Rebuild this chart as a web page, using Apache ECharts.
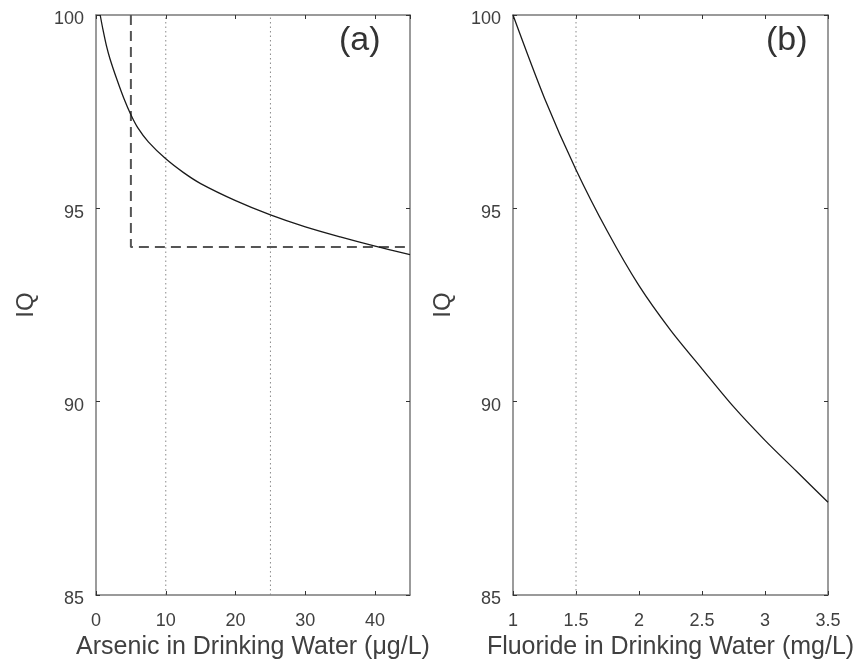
<!DOCTYPE html>
<html>
<head>
<meta charset="utf-8">
<script src="https://cdn.jsdelivr.net/npm/echarts@6/dist/echarts.min.js"></script>
<style>
  html, body { margin: 0; padding: 0; background: #fff; }
  #chart { width: 860px; height: 669px; }
</style>
</head>
<body>
<div id="chart"></div>
<script>
// panel (a): arsenic
var arsenicX = [0.6, 1, 1.5, 2, 3, 4, 5, 6, 7.5, 10, 12.5, 15, 20, 25, 30, 35, 40, 45];
var arsenicIQ = [100, 99.62, 99.2, 98.87, 98.33, 97.84, 97.42, 97.08, 96.72, 96.28, 95.93, 95.64, 95.2, 94.83, 94.52, 94.26, 94.02, 93.8];
var arsenicGuides = [10, 25];
var arsenicLimit = [5, 94]; // x, IQ of the dashed corner

// panel (b): fluoride
var fluorideX = [1, 1.25, 1.5, 1.75, 2, 2.25, 2.5, 2.75, 3, 3.25, 3.5];
var fluorideIQ = [100, 97.85, 96.0, 94.4, 93.0, 91.85, 90.85, 89.87, 89.0, 88.2, 87.4];
var fluorideGuides = [1.5];

var iqTicks = [85, 90, 95, 100];

var textColor = '#404040';
var boxColor = '#7a7a7a';
var font = 'Liberation Sans, Arial, Helvetica, sans-serif';

function pairs(xs, ys) {
  return xs.map(function (x, i) { return [x, ys[i]]; });
}

function guideSeries(xs, axisIdx) {
  return xs.map(function (x) {
    return {
      type: 'line',
      xAxisIndex: axisIdx,
      yAxisIndex: axisIdx,
      data: [[x, iqTicks[0]], [x, iqTicks[iqTicks.length - 1]]],
      symbol: 'none',
      silent: true,
      lineStyle: { color: '#8a8a8a', width: 1, type: [1.5, 3] }
    };
  });
}

function xAxisPair(grid, min, max, interval, name) {
  var base = {
    gridIndex: grid,
    type: 'value',
    min: min,
    max: max,
    interval: interval,
    splitLine: { show: false },
    axisLine: { show: true, onZero: false, lineStyle: { color: boxColor, width: 1.5 } },
    axisTick: { show: true, inside: true, length: 4, lineStyle: { color: '#333', width: 1 } }
  };
  var bottom = Object.assign({}, base, {
    position: 'bottom',
    name: name,
    nameLocation: 'middle',
    nameGap: 33,
    nameTextStyle: { color: textColor, fontSize: 25, fontFamily: font },
    axisLabel: {
      color: textColor, fontSize: 18, fontFamily: font, margin: 17,
      showMinLabel: true, showMaxLabel: true
    }
  });
  var top = Object.assign({}, base, {
    position: 'top',
    axisLabel: { show: false }
  });
  return [bottom, top];
}

function yAxisPair(grid) {
  var base = {
    gridIndex: grid,
    type: 'value',
    min: iqTicks[0],
    max: iqTicks[iqTicks.length - 1],
    interval: 5,
    splitLine: { show: false },
    axisLine: { show: true, onZero: false, lineStyle: { color: boxColor, width: 1.5 } },
    axisTick: { show: true, inside: true, length: 4, lineStyle: { color: '#333', width: 1 } }
  };
  var left = Object.assign({}, base, {
    position: 'left',
    name: 'IQ',
    nameLocation: 'middle',
    nameGap: 58,
    nameTextStyle: { color: textColor, fontSize: 24, fontFamily: font },
    // matlab-ish labels sit a bit below their ticks
    axisLabel: {
      color: textColor, fontSize: 18, fontFamily: font, margin: 12,
      verticalAlign: 'top', lineHeight: 9
    }
  });
  var right = Object.assign({}, base, {
    position: 'right',
    axisLabel: { show: false }
  });
  return [left, right];
}

var xa = xAxisPair(0, 0, 45, 10, 'Arsenic in Drinking Water (\u03bcg/L)');
var xb = xAxisPair(1, 1, 3.5, 0.5, 'Fluoride in Drinking Water (mg/L)');
var ya = yAxisPair(0);
var yb = yAxisPair(1);
// arsenic axis runs to 45 but ticks only up to 40
xa[0].axisLabel.showMaxLabel = false;

var chart = echarts.init(document.getElementById('chart'));
chart.setOption({
  animation: false,
  backgroundColor: '#fff',
  grid: [
    { left: 96, right: 450, top: 15, bottom: 74 },
    { left: 513, right: 32, top: 15, bottom: 74 }
  ],
  // axis order: 0 bottom a, 1 bottom b, 2 top a, 3 top b
  xAxis: [xa[0], xb[0], xa[1], xb[1]],
  yAxis: [ya[0], yb[0], ya[1], yb[1]],
  graphic: [
    { type: 'text', left: 339, top: 24, style: { text: '(a)', fill: '#333', font: '34px ' + font } },
    { type: 'text', left: 766, top: 24, style: { text: '(b)', fill: '#333', font: '34px ' + font } }
  ],
  series: [].concat(
    guideSeries(arsenicGuides, 0),
    guideSeries(fluorideGuides, 1),
    [
      {
        type: 'line',
        xAxisIndex: 0,
        yAxisIndex: 0,
        data: [[arsenicLimit[0], iqTicks[iqTicks.length - 1]], [arsenicLimit[0], arsenicLimit[1]], [45, arsenicLimit[1]]],
        symbol: 'none',
        silent: true,
        lineStyle: { color: '#555', width: 2, type: [10, 6] }
      },
      {
        type: 'line',
        xAxisIndex: 0,
        yAxisIndex: 0,
        data: pairs(arsenicX, arsenicIQ),
        smooth: 0.3,
        symbol: 'none',
        lineStyle: { color: '#1a1a1a', width: 1.3 }
      },
      {
        type: 'line',
        xAxisIndex: 1,
        yAxisIndex: 1,
        data: pairs(fluorideX, fluorideIQ),
        smooth: 0.3,
        symbol: 'none',
        lineStyle: { color: '#1a1a1a', width: 1.3 }
      }
    ]
  )
});
</script>
</body>
</html>
